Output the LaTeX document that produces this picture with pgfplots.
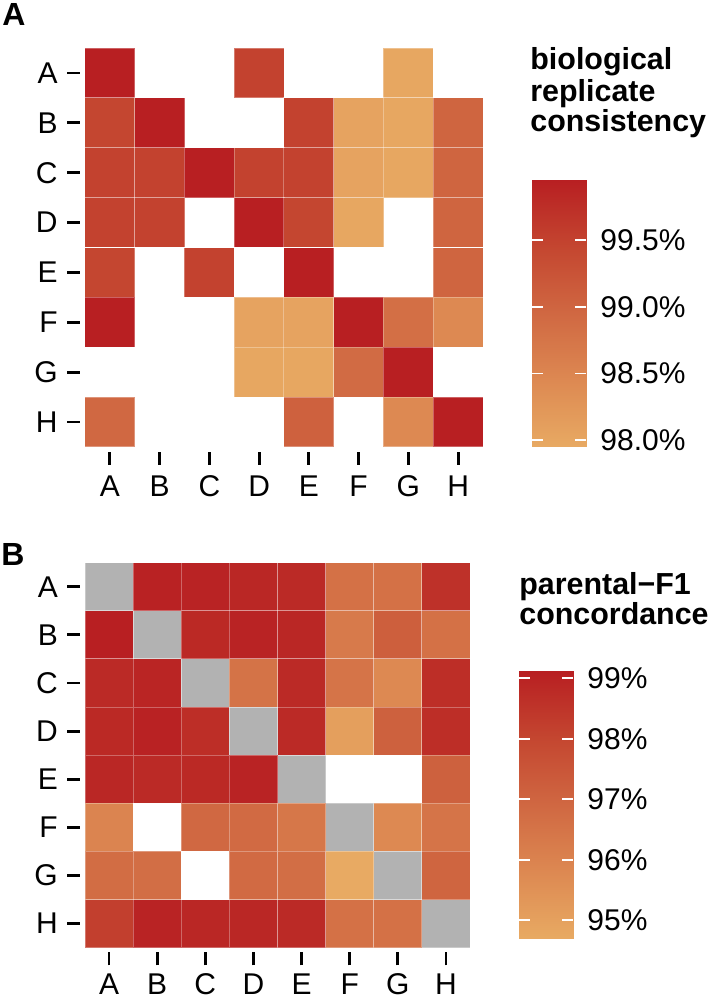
\documentclass[border=0pt]{standalone}
\usepackage{fontspec}
\setmainfont{Liberation Sans}
\usepackage{pgfplots}
\pgfplotsset{compat=1.18}
\newcommand{\tickfont}{\fontsize{15}{16}\selectfont}
\newcommand{\titlefont}{\bfseries\fontsize{15.2}{15.4}\selectfont}
\pgfplotsset{
 heat/.style={
  scale only axis, axis line style={draw=none},
  xmin=-0.6, xmax=7.5, ymin=-0.6, ymax=7.5,
  xtick={0,...,7}, ytick={0,...,7},
  xticklabels={A,B,C,D,E,F,G,H}, yticklabels={H,G,F,E,D,C,B,A},
  tick pos=left, tick align=outside, major tick length=6.5pt,
  tick style={black, line width=1.4pt},
  ticklabel style={font=\tickfont, inner sep=0pt},
  xticklabel style={yshift=-5pt}, yticklabel style={xshift=-4.5pt},
  colormap name=rep,
 },
 cbar/.style={
  anchor=south west, width=27pt, scale only axis,
  xmin=0, xmax=1, xtick=\empty,
  axis line style={draw=none}, axis on top,
  yticklabel pos=right, ytick pos=right,
  tick align=inside, major tick length=5.5pt,
  ytick style={draw=white, line width=0.9pt},
  yticklabel style={font=\tickfont, inner sep=0pt, xshift=7pt},
  colormap name=rep,
 },
 cbarticks/.style={
  anchor=south west, width=27pt, scale only axis,
  xmin=0, xmax=1, xtick=\empty,
  axis line style={draw=none},
  ytick pos=left, yticklabels={},
  tick align=inside, major tick length=5.5pt,
  ytick style={draw=white, line width=0.9pt},
 },
 tiles/.style={scatter, only marks, mark=square*, mark size=#1, point meta=explicit,
  scatter/use mapped color={draw=white, fill=mapped color},
  mark options={draw opacity=0.3, line width=0.5pt}},
 /pgfplots/colormap={rep}{rgb255=(232,170,99) rgb255=(221,137,82) rgb255=(208,104,66) rgb255=(196,70,48) rgb255=(184,31,34)},
}
\begin{document}
\begin{tikzpicture}
\path (0,0) rectangle (356.5pt,499.5pt);
% Panel A
\node[anchor=base west, inner sep=0pt, font=\bfseries\fontsize{16}{16}\selectfont] at (1pt,486.5pt) {A};
\begin{axis}[heat, at={(40pt,273.5pt)}, anchor=south west, width=201.5pt, height=202pt,
  point meta min=97.95, point meta max=99.95]
\addplot[tiles=12.45pt] table[meta=v]{
x y v
0 7 99.95
3 7 99.50
6 7 98.00
0 6 99.45
1 6 99.95
4 6 99.50
5 6 98.05
6 6 98.00
7 6 99.00
0 5 99.50
1 5 99.50
2 5 99.95
3 5 99.50
4 5 99.50
5 5 98.05
6 5 98.00
7 5 99.00
0 4 99.50
1 4 99.50
3 4 99.95
4 4 99.45
5 4 98.00
7 4 99.00
0 3 99.45
2 3 99.50
4 3 99.95
7 3 99.00
0 2 99.95
3 2 98.05
4 2 98.05
5 2 99.95
6 2 98.85
7 2 98.45
3 1 98.00
4 1 98.00
5 1 98.90
6 1 99.95
0 0 98.95
4 0 99.05
6 0 98.45
7 0 99.95
};
\end{axis}
\begin{axis}[cbar, at={(266pt,276pt)}, height=133.5pt, ymin=97.95, ymax=99.95,
  point meta min=97.95, point meta max=99.95,
  ytick={98,98.5,99,99.5}, yticklabels={98.0\%,98.5\%,99.0\%,99.5\%}]
\addplot[surf, shader=interp, mesh/cols=2, point meta=y] coordinates {
(0,97.95) (1,97.95)
(0,98.20) (1,98.20)
(0,98.45) (1,98.45)
(0,98.70) (1,98.70)
(0,98.95) (1,98.95)
(0,99.20) (1,99.20)
(0,99.45) (1,99.45)
(0,99.70) (1,99.70)
(0,99.95) (1,99.95)
};
\end{axis}
\begin{axis}[cbarticks, at={(266pt,276pt)}, height=133.5pt, ymin=97.95, ymax=99.95,
  ytick={98,98.5,99,99.5}]
\end{axis}
\node[anchor=base west, inner sep=0pt, font=\titlefont] at (265pt,464.5pt) {biological};
\node[anchor=base west, inner sep=0pt, font=\titlefont] at (265pt,448.8pt) {replicate};
\node[anchor=base west, inner sep=0pt, font=\titlefont] at (265pt,433.5pt) {consistency};
% Panel B
\node[anchor=base west, inner sep=0pt, font=\bfseries\fontsize{16}{16}\selectfont] at (0.5pt,216.5pt) {B};
\begin{axis}[heat, at={(40.1pt,23.25pt)}, anchor=south west, width=194.9pt, height=194.9pt,
  point meta min=94.69, point meta max=99.12, xticklabel style={yshift=1pt}]
\addplot[only marks, mark=square*, mark size=12.03pt, mark options={fill=black!30, draw=white, draw opacity=0.3, line width=0.5pt}]
 coordinates {(0,7) (1,6) (2,5) (3,4) (4,3) (5,2) (6,1) (7,0)};
\addplot[tiles=12.03pt] table[meta=v]{
x y v
1 7 99.05
2 7 99.00
3 7 98.90
4 7 98.80
5 7 96.60
6 7 96.60
7 7 98.60
0 6 99.12
2 6 98.85
3 6 99.00
4 6 98.90
5 6 96.30
6 6 97.20
7 6 96.60
0 5 98.80
1 5 98.95
3 5 96.55
4 5 98.80
5 5 96.50
6 5 95.80
7 5 98.70
0 4 98.85
1 4 99.05
2 4 98.70
4 4 98.80
5 4 95.05
6 4 97.15
7 4 98.70
0 3 98.90
1 3 98.80
2 3 98.85
3 3 99.00
7 3 97.15
0 2 95.95
2 2 96.90
3 2 96.85
4 2 96.40
6 2 95.80
7 2 96.50
0 1 96.75
1 1 96.70
3 1 96.85
4 1 96.70
5 1 94.69
7 1 97.00
0 0 98.20
1 0 99.00
2 0 98.90
3 0 98.90
4 0 98.80
5 0 96.60
6 0 96.60
};
\end{axis}
\begin{axis}[cbar, at={(259.5pt,30pt)}, height=134pt, ymin=94.69, ymax=99.12,
  point meta min=94.69, point meta max=99.12,
  ytick={95,96,97,98,99}, yticklabels={95\%,96\%,97\%,98\%,99\%}]
\addplot[surf, shader=interp, mesh/cols=2, point meta=y] coordinates {
(0,94.69) (1,94.69)
(0,95.24) (1,95.24)
(0,95.80) (1,95.80)
(0,96.35) (1,96.35)
(0,96.91) (1,96.91)
(0,97.46) (1,97.46)
(0,98.01) (1,98.01)
(0,98.57) (1,98.57)
(0,99.12) (1,99.12)
};
\end{axis}
\begin{axis}[cbarticks, at={(259.5pt,30pt)}, height=134pt, ymin=94.69, ymax=99.12,
  ytick={95,96,97,98,99}]
\end{axis}
\node[anchor=base west, inner sep=0pt, font=\titlefont] at (259.5pt,202pt) {parental−F1};
\node[anchor=base west, inner sep=0pt, font=\titlefont] at (259.5pt,187pt) {concordance};
\end{tikzpicture}
\end{document}
